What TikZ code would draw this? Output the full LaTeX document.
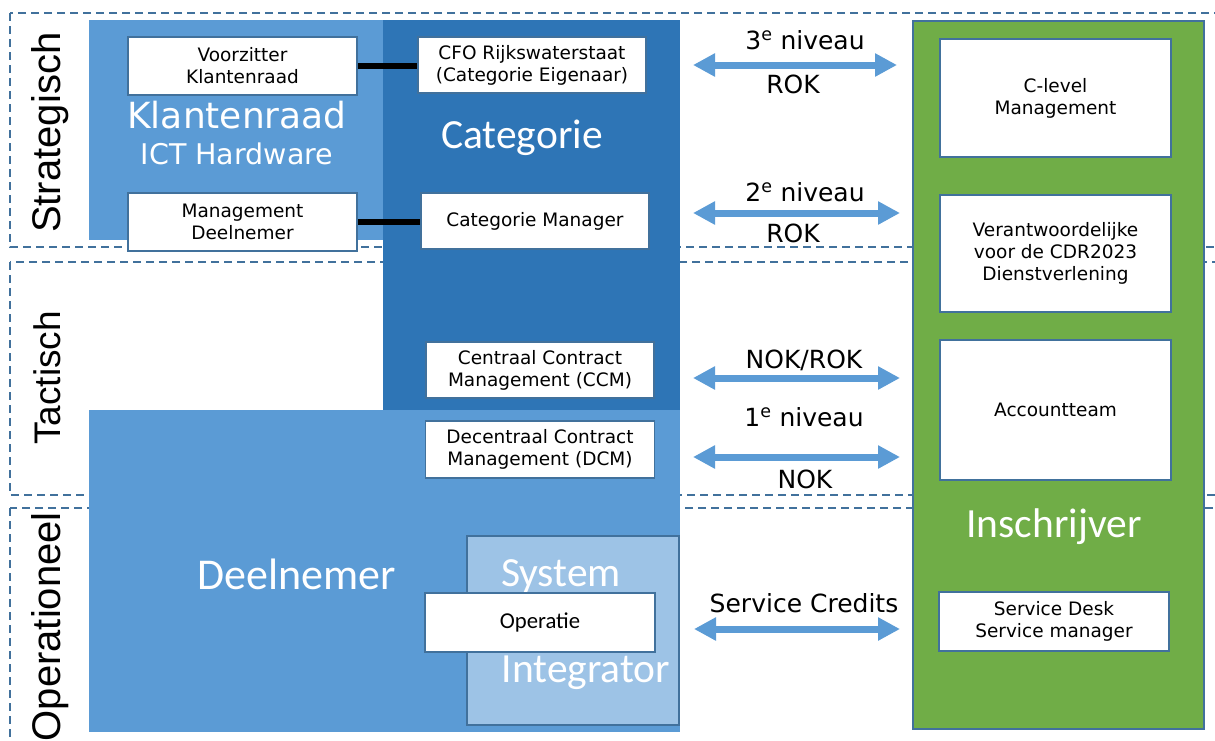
\documentclass[tikz,border=0pt]{standalone}
\usepackage{fontspec}
\setmainfont{DejaVu Sans}
\newfontfamily\calfont{Carlito}
\newfontfamily\arifont{Liberation Sans}
\usetikzlibrary{arrows.meta}
\definecolor{lightblue}{HTML}{5B9BD5}
\definecolor{darkblue}{HTML}{2E75B6}
\definecolor{paleblue}{HTML}{9DC3E6}
\definecolor{grn}{HTML}{70AD47}
\definecolor{edge}{HTML}{41719C}
\tikzset{
  band/.style={draw=edge, line width=1.8pt, dash pattern=on 8pt off 5pt},
  wbox/.style={draw=edge, line width=1.5pt, fill=white, align=center,
    font=\fontsize{18.5}{22}\selectfont, inner sep=0pt},
  biglbl/.style={text=white, inner sep=0pt, font=\calfont\fontsize{41.5}{42}\selectfont},
  rowlbl/.style={rotate=90, inner sep=0pt},
  lbl/.style={inner sep=0pt, font=\fontsize{25}{25}\selectfont},
  link/.style={draw=lightblue, line width=7pt,
    {Triangle[width=22pt,length=22pt]}-{Triangle[width=22pt,length=22pt]}},
  tie/.style={draw=black, line width=6pt}
}
\begin{document}
\begin{tikzpicture}[x=1pt,y=-1pt]
\useasboundingbox (0,0) rectangle (1215,740);
\clip (0,0) rectangle (1215,740);

% level bands
\draw[band] (10,13) rectangle (1240,247);
\draw[band] (10,262) rectangle (1240,495);
\draw[band] (10,508) rectangle (1240,770);

\node[rowlbl, anchor=base west, font=\arifont\fontsize{40}{40}\selectfont] (lstr) at (60,233) {Strategisch};
\node[rowlbl, anchor=base west, font=\arifont\fontsize{37}{37}\selectfont] (ltac) at (60,445) {Tactisch};
\node[rowlbl, anchor=base east, font=\arifont\fontsize{40}{40}\selectfont] (lop) at (60,512) {Operationeel};

% organisation blocks
\fill[lightblue] (89,20) rectangle (383,240);
\fill[darkblue] (383,20) rectangle (680,410);
\fill[lightblue] (89,410) rectangle (680,732);
\filldraw[fill=paleblue, draw=edge, line width=1.5pt] (467,536) rectangle (679,725);
\filldraw[fill=grn, draw=edge, line width=2pt] (913,21) rectangle (1204,729);

% block titles
\node[text=white, inner sep=0pt, font=\fontsize{36}{36}\selectfont] (tkr) at (237,115) {Klantenraad};
\node[text=white, inner sep=0pt, font=\fontsize{28.5}{28.5}\selectfont] (tict) at (237,154) {ICT Hardware};
\node[biglbl] (tcat) at (522,138) {Categorie};
\node[biglbl, font=\calfont\fontsize{44}{44}\selectfont] (tdn) at (297,574) {Deelnemer};
\node[biglbl] (tsys) at (561,576) {System};
\node[biglbl] (tint) at (586,673) {Integrator};
\node[biglbl] (tins) at (1054,527) {Inschrijver};

% role boxes
\node[wbox, minimum width=229, minimum height=58] (vz) at (242.5,66) {Voorzitter\\Klantenraad};
\node[wbox, minimum width=229, minimum height=58] (md) at (242.5,222) {Management\\Deelnemer};
\node[wbox, minimum width=228, minimum height=56] (cfo) at (532,65) {CFO Rijkswaterstaat\\(Categorie Eigenaar)};
\node[wbox, minimum width=228, minimum height=56] (cm) at (535,221) {Categorie Manager};
\node[wbox, minimum width=228, minimum height=56] (ccm) at (540,370) {Centraal Contract\\Management (CCM)};
\node[wbox, minimum width=229, minimum height=57] (dcm) at (540,449.5) {Decentraal Contract\\Management (DCM)};
\node[wbox, minimum width=230, minimum height=59, font=\calfont\fontsize{22.7}{24}\selectfont] (op) at (540,622.5) {Operatie};
\node[wbox, minimum width=231, minimum height=118] (cl) at (1055.5,98) {C-level\\Management};
\node[wbox, minimum width=231, minimum height=117] (vr) at (1055.5,253.5) {Verantwoordelijke\\voor de CDR2023\\Dienstverlening};
\node[wbox, minimum width=231, minimum height=140] (at) at (1055.5,410) {Accountteam};
\node[wbox, minimum width=230, minimum height=59] (sd) at (1054,621.5) {Service Desk\\Service manager};

% ties between council and category roles
\draw[tie] (vz.east) -- (vz.east -| cfo.west);
\draw[tie] (md.east) -- (md.east -| cm.west);

% consultation arrows
\coordinate (a1l) at (693,65);   \coordinate (a1r) at (897,65);
\coordinate (a2l) at (693,213);  \coordinate (a2r) at (900,213);
\coordinate (a3l) at (693,378);  \coordinate (a3r) at (900,378);
\coordinate (a4l) at (693,457);  \coordinate (a4r) at (900,457);
\coordinate (a5l) at (694,629);  \coordinate (a5r) at (900,629);
\draw[link] (a1l) -- (a1r);
\draw[link] (a2l) -- (a2r);
\draw[link] (a3l) -- (a3r);
\draw[link] (a4l) -- (a4r);
\draw[link] (a5l) -- (a5r);

\node[lbl] (n3) at (805,40) {3\textsuperscript{e} niveau};
\node[lbl] (r3) at (793,84) {ROK};
\node[lbl] (n2) at (805,192) {2\textsuperscript{e} niveau};
\node[lbl] (r2) at (793,233) {ROK};
\node[lbl] (nr) at (804,360) {NOK/ROK};
\node[lbl] (n1) at (804,417) {1\textsuperscript{e} niveau};
\node[lbl] (nk) at (805,479) {NOK};
\node[lbl] (sc) at (804,603) {Service Credits};
\end{tikzpicture}
\end{document}
